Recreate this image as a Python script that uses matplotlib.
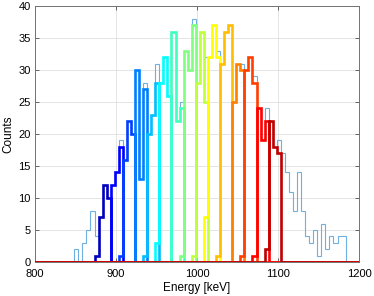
import numpy as np
import matplotlib
matplotlib.use("Agg")
import matplotlib.pyplot as plt

plt.rcParams['font.family'] = ['Liberation Sans', 'DejaVu Sans']

bin_width = 5.0
first_edge = 848.5

# all events, one value per 5 keV bin starting at first_edge
total_counts = [2, 0, 3, 5, 8, 4, 7, 12, 10, 12,
                14, 19, 16, 22, 20, 30, 13, 28, 20, 23,
                31, 28, 32, 26, 36, 22, 25, 33, 30, 38,
                28, 36, 32, 32, 37, 33, 31, 36, 37, 25,
                31, 31, 30, 32, 29, 24, 19, 24, 22, 18,
                19, 17, 14, 11, 8, 14, 8, 4, 3, 5,
                1, 6, 2, 4, 3, 4, 4]

# energy slices: left edge of first bin of each slice and its 4 bin counts
slice_start = [873.5, 888.5, 903.5, 918.5, 933.5, 948.5, 963.5, 978.5,
               993.5, 1008.5, 1023.5, 1038.5, 1053.5, 1068.5, 1083.5]
slice_counts = [
    [1, 7, 12, 10],
    [0, 12, 14, 18],
    [1, 16, 22, 20],
    [0, 30, 13, 27],
    [1, 20, 23, 28],
    [3, 28, 32, 26],
    [0, 36, 22, 24],
    [1, 33, 30, 37],
    [1, 28, 36, 25],
    [7, 32, 37, 32],
    [1, 31, 36, 37],
    [0, 25, 31, 30],
    [1, 30, 32, 28],
    [1, 24, 19, 22],
    [2, 22, 18, 17],
]

# MATLAB jet(15)
jet15 = [(0, 0, 0.75), (0, 0, 1), (0, 0.25, 1), (0, 0.5, 1), (0, 0.75, 1),
         (0, 1, 1), (0.25, 1, 0.75), (0.5, 1, 0.5), (0.75, 1, 0.25), (1, 1, 0),
         (1, 0.75, 0), (1, 0.5, 0), (1, 0.25, 0), (1, 0, 0), (0.75, 0, 0)]

fig = plt.figure(figsize=(3.74, 2.96), dpi=100)
ax = fig.add_axes([0.0936, 0.1149, 0.8663, 0.8649])

# full histogram, thin light blue
tot_edges = first_edge + bin_width * np.arange(len(total_counts) + 1)
ax.stairs(total_counts, tot_edges, color='#6fb0e0', linewidth=0.8, zorder=2)

# every slice histogram spans the whole energy range (zeros outside)
all_edges = np.arange(first_edge - 10 * bin_width, 1205, bin_width)
for start, counts, col in zip(slice_start, slice_counts, jet15):
    h = np.zeros(len(all_edges) - 1)
    i0 = int(round((start - all_edges[0]) / bin_width))
    h[i0:i0 + len(counts)] = counts
    ax.stairs(h, all_edges, color=col, linewidth=1.9, zorder=3)

ax.set_xlim(800, 1200)
ax.set_ylim(0, 40)
ax.set_xticks(np.arange(800, 1201, 100))
ax.set_yticks(np.arange(0, 41, 5))
ax.tick_params(direction='in', top=True, right=True, length=3, width=0.6,
               labelsize=8, color='0.3')
ax.tick_params(axis='x', pad=5)
ax.tick_params(axis='y', pad=3)
ax.grid(True, color='0.88', linewidth=0.6)
ax.set_axisbelow(True)
for s in ax.spines.values():
    s.set_color('0.45')
    s.set_linewidth(0.7)

ax.set_xlabel('Energy [keV]', fontsize=8.5, labelpad=2)
ax.set_ylabel('Counts', fontsize=8.5, labelpad=3)

fig.savefig('out.png', dpi=100)
